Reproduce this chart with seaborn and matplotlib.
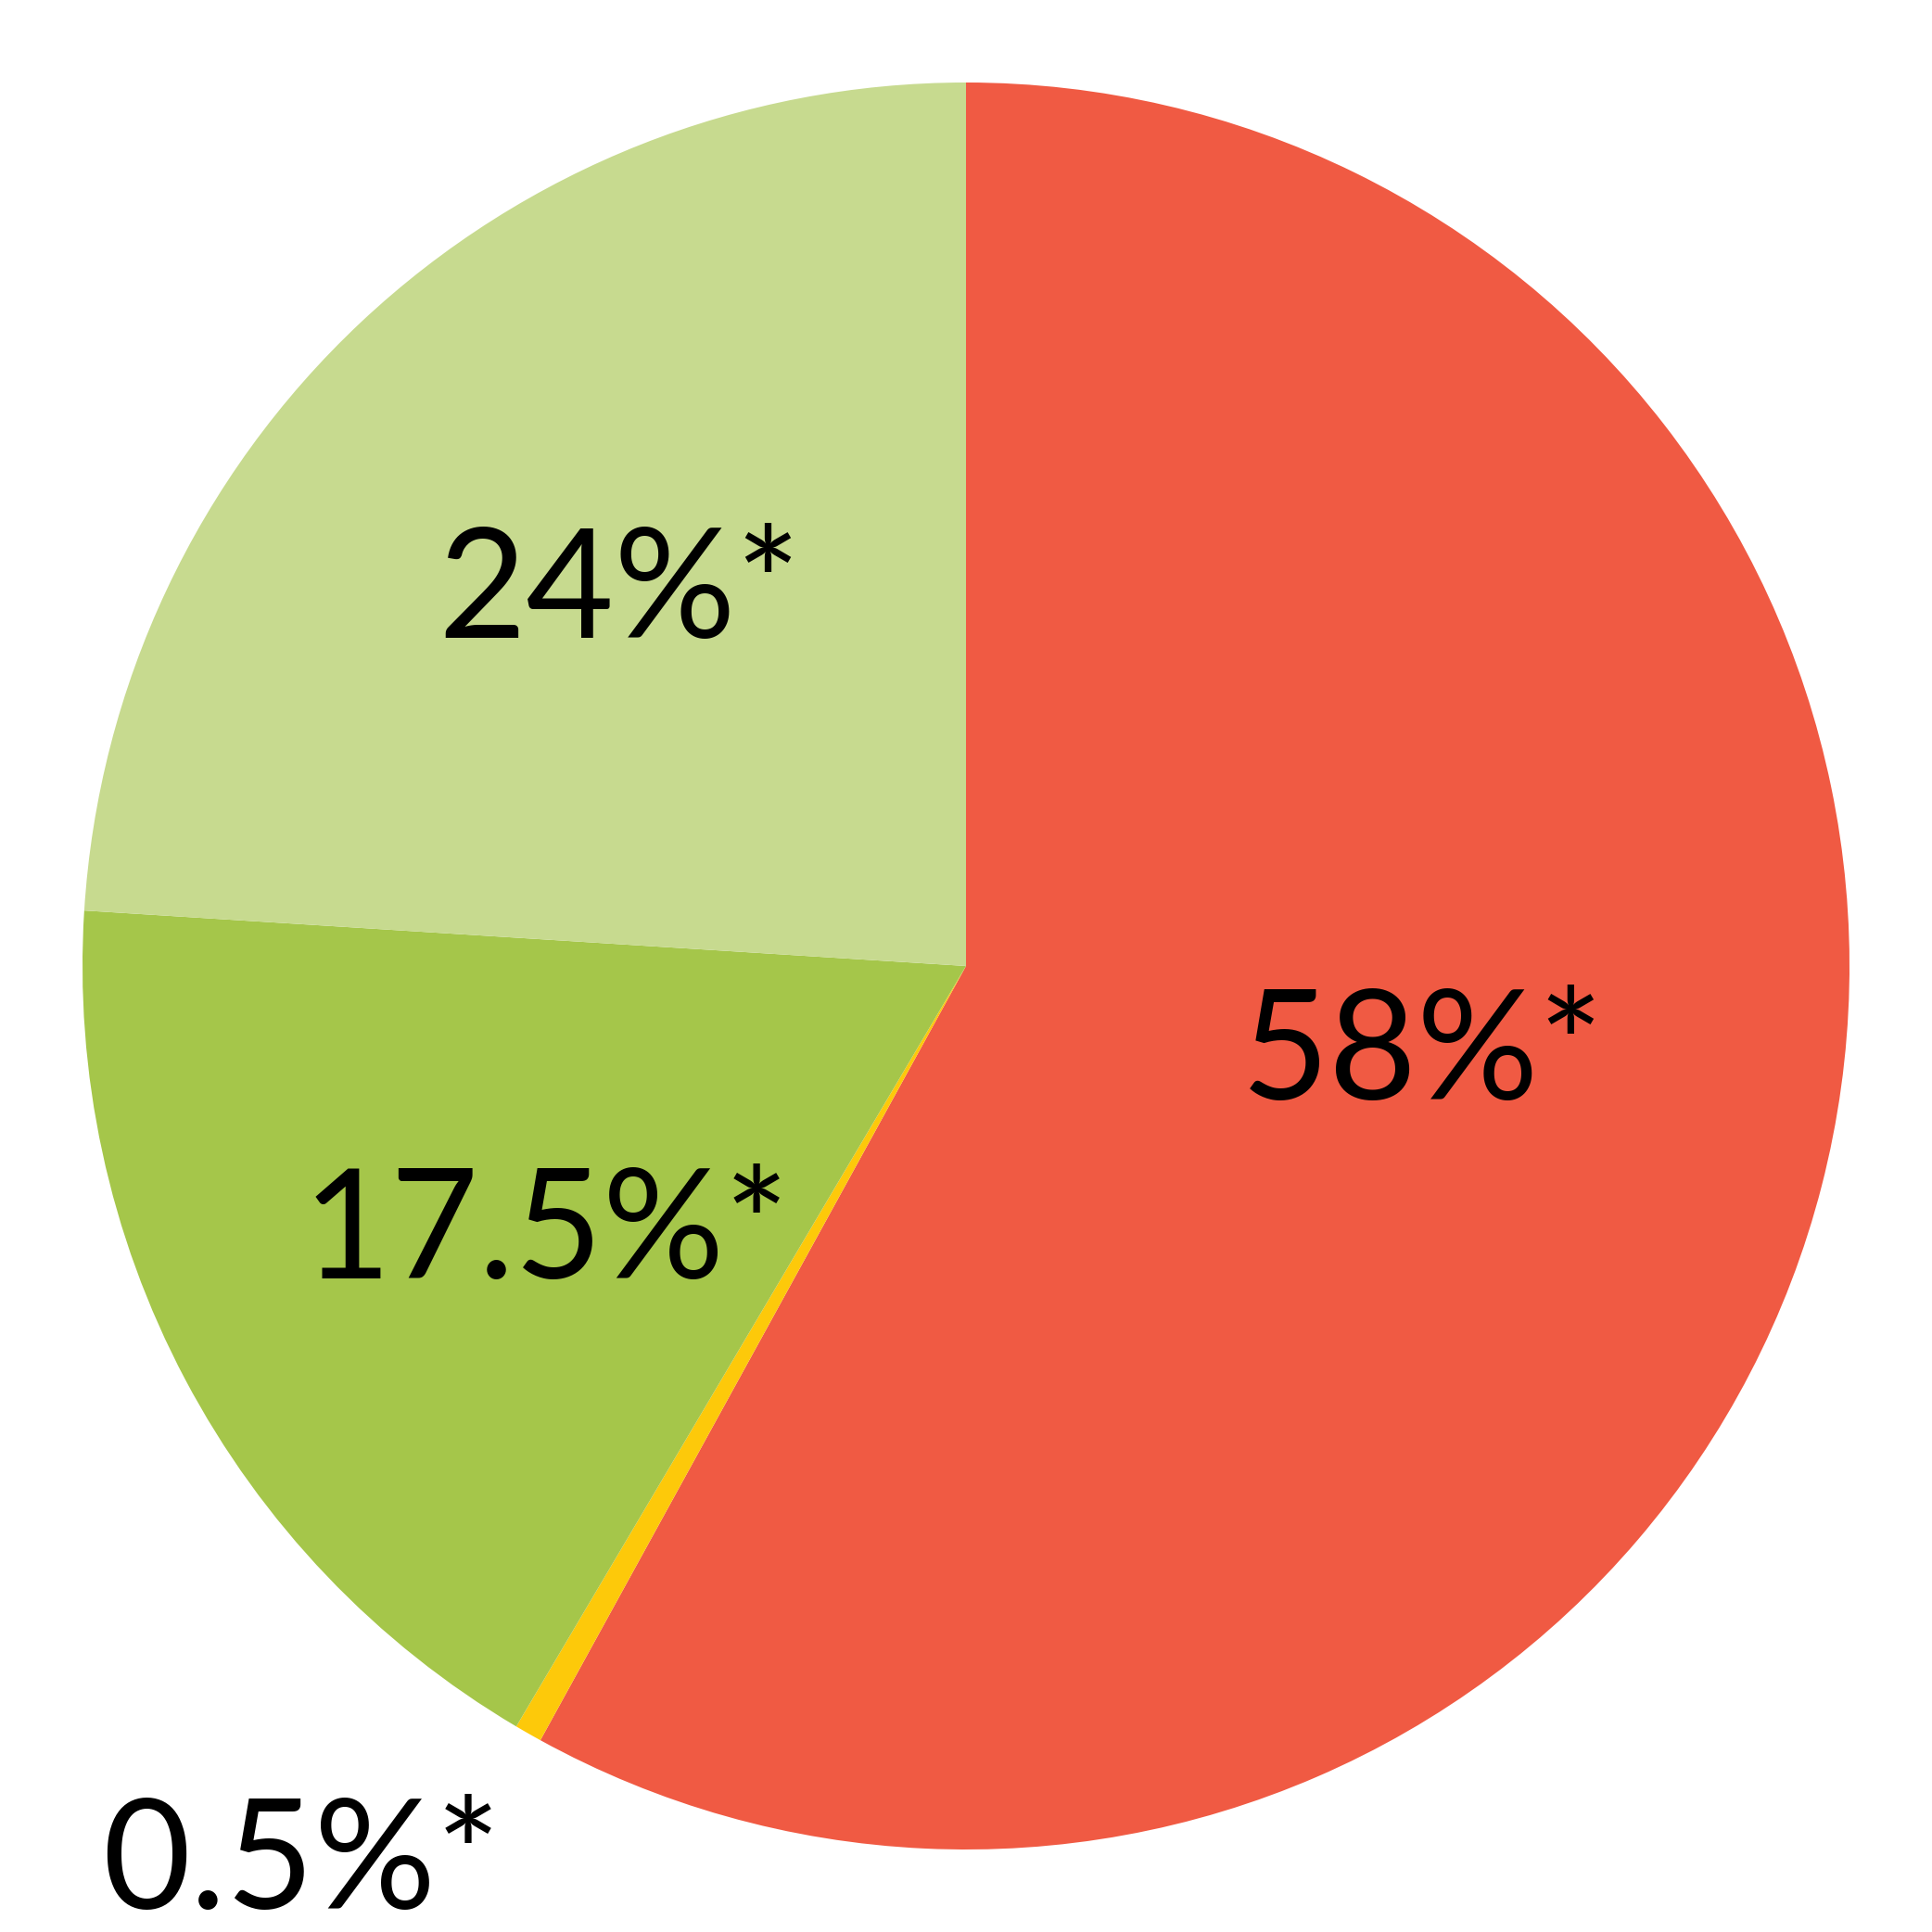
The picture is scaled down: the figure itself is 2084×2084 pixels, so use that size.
import numpy as np
import matplotlib
matplotlib.use("Agg")
import matplotlib.pyplot as plt
import seaborn as sns

# slice data (clockwise from 12 o'clock)
labels = ["58%*", "0.5%*", "17.5%*", "24%*"]
shares = [58, 0.5, 17.5, 24]
colors = ["#F05A43", "#FDC90A", "#A5C64A", "#C7DA8F"]
# label positions in pie units (radius = 1)
label_x = [0.517, -0.752, -0.475, -0.392]
label_y = [-0.102, -1.018, -0.305, 0.421]

sns.set_theme(style="white")
plt.rcParams['font.family'] = ['Lato', 'DejaVu Sans']

fig = plt.figure(figsize=(20.84, 20.84), dpi=100)
ax = fig.add_axes([0, 0, 1, 1])
ax.pie(shares, colors=sns.color_palette(colors), startangle=90, counterclock=False,
       radius=1, center=(0, 0), wedgeprops=dict(linewidth=0))

for lab, x, y in zip(labels, label_x, label_y):
    ax.text(x, y, lab, ha='center', va='center', fontsize=118,
            fontweight='normal', color='black')

lim = 1042 / 953
ax.set_xlim(-lim, lim)
ax.set_ylim(-lim, lim)
ax.set_aspect('equal')
ax.axis('off')

fig.savefig("out.png", dpi=100, facecolor='white')
